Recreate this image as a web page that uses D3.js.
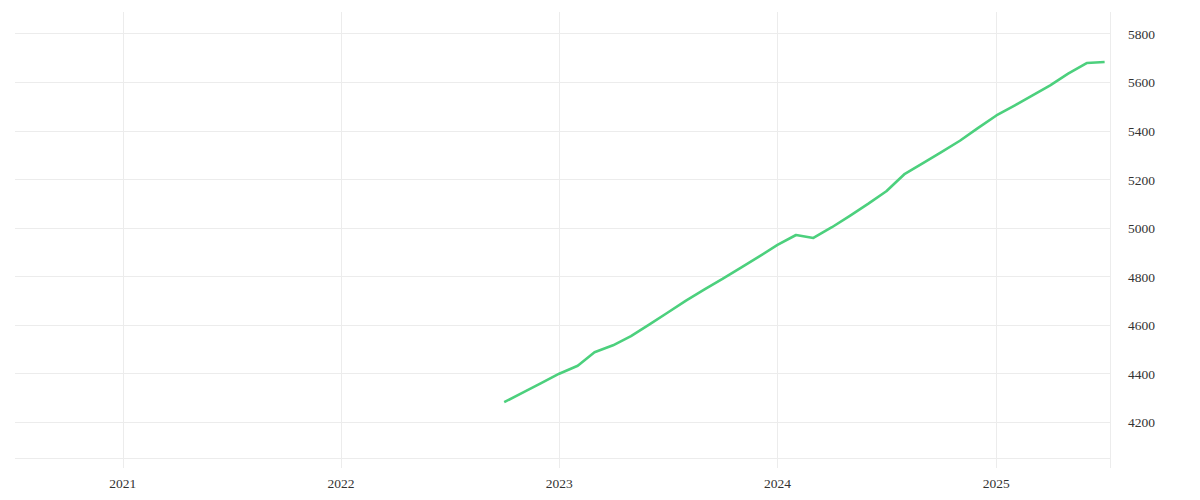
<!DOCTYPE html>
<html lang="en">
<head>
    <meta charset="UTF-8">
    <title>line chart</title>
    <script src="https://d3js.org/d3.v7.min.js"></script>
    <style>
        body{ margin:0; background:#fff; }
        .grid line{ stroke:#ececec; stroke-width:1; shape-rendering:crispEdges; }
        .lbl{ font-family:"Liberation Serif", serif; font-size:13.5px; fill:#333; }
    </style>
</head>
<body>
<svg width="1200" height="500" id="main"></svg>

<script>
    // monthly series, first of month
    let months = [
        "2022-10","2022-11","2022-12",
        "2023-01","2023-02","2023-03","2023-04","2023-05","2023-06",
        "2023-07","2023-08","2023-09","2023-10","2023-11","2023-12",
        "2024-01","2024-02","2024-03","2024-04","2024-05","2024-06",
        "2024-07","2024-08","2024-09","2024-10","2024-11","2024-12",
        "2025-01","2025-02","2025-03","2025-04","2025-05","2025-06","2025-07"
    ]
    let values = [
        4282,4321,4359,
        4399,4432,4487,4516,4554,4602,
        4650,4700,4746,4789,4836,4881,
        4929,4970,4958,5002,5049,5099,
        5150,5222,5267,5311,5358,5410,
        5462,5504,5543,5586,5634,5678,5682
    ]
    let yTicks = [4200,4400,4600,4800,5000,5200,5400,5600,5800]
    let xTicks = ["2021","2022","2023","2024","2025"]
    let xDomain = ["2020-07-05","2025-07-10"]
    let yDomain = [4052,5888]

    let parse = d3.timeParse("%Y-%m")
    let data = months.map(function (m, i) {
        return {date: parse(m), value: values[i]}
    })

    let padL = 15, padR = 1110, padT = 12, padB = 458

    let x = d3.scaleTime()
        .domain(xDomain.map(d3.timeParse("%Y-%m-%d")))
        .range([padL, padR])
    let y = d3.scaleLinear()
        .domain(yDomain)
        .range([padB, padT])

    let svg = d3.select("#main")
    let grid = svg.append("g").attr("class", "grid")

    // horizontal grid lines
    grid.selectAll(".h")
        .data(yTicks)
        .join("line")
        .attr("x1", padL).attr("x2", padR)
        .attr("y1", d => Math.round(y(d)) + 0.5)
        .attr("y2", d => Math.round(y(d)) + 0.5)
    // bottom edge of the plot
    grid.append("line")
        .attr("x1", padL).attr("x2", padR)
        .attr("y1", padB + 0.5).attr("y2", padB + 0.5)

    // vertical grid lines (years), running into the tick zone
    let yearDates = xTicks.map(d3.timeParse("%Y"))
    grid.selectAll(".v")
        .data(yearDates)
        .join("line")
        .attr("x1", d => Math.round(x(d)) + 0.5)
        .attr("x2", d => Math.round(x(d)) + 0.5)
        .attr("y1", padT).attr("y2", padB + 10)
    // right edge (price scale border)
    grid.append("line")
        .attr("x1", padR + 0.5).attr("x2", padR + 0.5)
        .attr("y1", padT).attr("y2", padB + 10)

    // y labels on the right
    svg.append("g")
        .selectAll("text")
        .data(yTicks)
        .join("text")
        .attr("class", "lbl")
        .attr("x", padR + 18)
        .attr("y", d => y(d))
        .attr("dy", "0.4em")
        .text(d => d)

    // x labels
    svg.append("g")
        .selectAll("text")
        .data(yearDates)
        .join("text")
        .attr("class", "lbl")
        .attr("x", d => x(d))
        .attr("y", 483)
        .attr("dy", "0.35em")
        .attr("text-anchor", "middle")
        .text(d3.timeFormat("%Y"))

    let line = d3.line()
        .x(d => x(d.date))
        .y(d => y(d.value))

    svg.append("path")
        .datum(data)
        .attr("fill", "none")
        .attr("stroke", "#4cd07d")
        .attr("stroke-width", 2.6)
        .attr("stroke-linejoin", "round")
        .attr("d", line)
</script>

</body>
</html>
